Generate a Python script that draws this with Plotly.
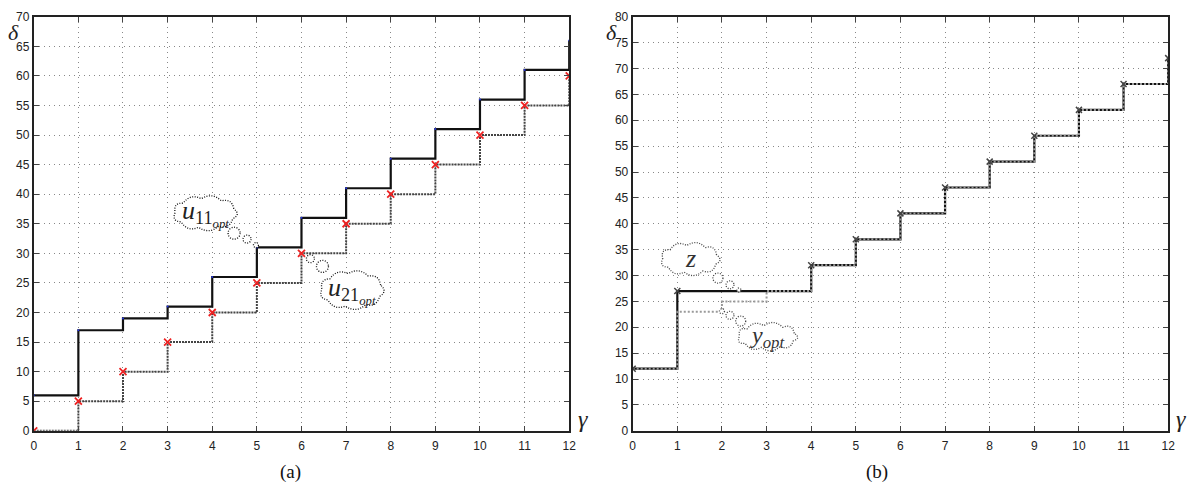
import numpy as np
import plotly.graph_objects as go

# ---------------- data ----------------
gamma = list(range(13))
# panel (a)
u11_opt = [6, 17, 19, 21, 26, 31, 36, 41, 46, 51, 56, 61, 66]
u21_opt = [0, 5, 10, 15, 20, 25, 30, 35, 40, 45, 50, 55, 60]
# panel (b)
z_vals = [12, 27, 27, 27, 32, 37, 42, 47, 52, 57, 62, 67, 72]
y_opt = [12, 23, 25, 27, 32, 37, 42, 47, 52, 57, 62, 67, 72]
mark_gamma_b = [0, 1, 4, 5, 6, 7, 8, 9, 10, 11, 12]
mark_vals_b = [12, 27, 32, 37, 42, 47, 52, 57, 62, 67, 72]

xticks = list(range(13))
yticks_a = list(range(0, 71, 5))
yticks_b = list(range(0, 81, 5))

fig = go.Figure()

# ---------------- panel (a) ----------------
fig.add_trace(go.Scatter(x=gamma, y=u21_opt, mode="lines", line_shape="hv",
                         line=dict(color="#444444", width=2, dash="2px,1px"),
                         xaxis="x", yaxis="y", showlegend=False))
fig.add_trace(go.Scatter(x=gamma, y=u11_opt, mode="lines+markers", line_shape="hv",
                         line=dict(color="#111111", width=2.2),
                         marker=dict(color="#2233dd", size=2),
                         xaxis="x", yaxis="y", showlegend=False))
fig.add_trace(go.Scatter(x=gamma, y=u21_opt, mode="markers",
                         marker=dict(symbol="x-thin", size=7,
                                     line=dict(color="#ee2222", width=1.8)),
                         xaxis="x", yaxis="y", showlegend=False))

# ---------------- panel (b) ----------------
fig.add_trace(go.Scatter(x=gamma, y=z_vals, mode="lines", line_shape="hv",
                         line=dict(color="#111111", width=2.2),
                         xaxis="x2", yaxis="y2", showlegend=False))
fig.add_trace(go.Scatter(x=gamma, y=y_opt, mode="lines", line_shape="hv",
                         line=dict(color="#9a9a9a", width=2, dash="2px,2px"),
                         xaxis="x2", yaxis="y2", showlegend=False))
fig.add_trace(go.Scatter(x=mark_gamma_b, y=mark_vals_b, mode="markers",
                         marker=dict(symbol="x-thin", size=6,
                                     line=dict(color="#444444", width=1.5)),
                         xaxis="x2", yaxis="y2", showlegend=False))

# ---------------- axes ----------------
tickfont = dict(family="Liberation Sans", size=12, color="#222222")
common = dict(showline=True, linecolor="#222222", linewidth=2, mirror="ticks",
              ticks="inside", ticklen=5, tickcolor="#444444", tickwidth=1,
              showgrid=True, gridcolor="#888888", gridwidth=1, griddash="1px,4px",
              zeroline=False, tickfont=tickfont)

fig.update_layout(
    width=1197, height=500,
    margin=dict(l=0, r=0, t=0, b=0),
    paper_bgcolor="white", plot_bgcolor="white",
    xaxis=dict(domain=[31/1197, 571/1197], range=[0, 12], tickvals=xticks,
               ticklabelstandoff=3, **common),
    yaxis=dict(domain=[64/500, 490/500], range=[0, 70], tickvals=yticks_a, **common),
    xaxis2=dict(domain=[635/1197, 1175/1197], range=[0, 12], tickvals=xticks,
                anchor="y2", ticklabelstandoff=3, **common),
    yaxis2=dict(domain=[64/500, 490/500], range=[0, 80], tickvals=yticks_b,
                anchor="x2", **common),
)


# ---------------- thought clouds ----------------
def cloud_path(w, h, n=9, bump=4.0):
    a, b = w / 2.0, h / 2.0
    th = np.linspace(0, 2 * np.pi, n + 1) + 0.3
    pts = [(a * np.cos(t), b * np.sin(t)) for t in th]
    d = f"M {pts[0][0]:.2f},{pts[0][1]:.2f}"
    for i in range(n):
        (x0, y0), (x1, y1) = pts[i], pts[i + 1]
        mx, my = (x0 + x1) / 2, (y0 + y1) / 2
        dx, dy = x1 - x0, y1 - y0
        L = np.hypot(dx, dy)
        nx, ny = dy / L, -dx / L
        if nx * mx + ny * my < 0:
            nx, ny = -nx, -ny
        cx, cy = mx + nx * bump * 2, my + ny * bump * 2
        d += f" Q {cx:.2f},{cy:.2f} {x1:.2f},{y1:.2f}"
    return d + " Z"


shapes = []


def add_cloud(xr, yr, cx, cy, w, h, tail, color):
    ln = dict(color=color, width=1.3, dash="1px,1.5px")
    for (tx, ty, r) in tail:
        shapes.append(dict(type="circle", xref=xr, yref=yr, xsizemode="pixel",
                           ysizemode="pixel", xanchor=tx, yanchor=ty,
                           x0=-r, x1=r, y0=-r, y1=r, fillcolor="white",
                           line=ln, layer="above"))
    shapes.append(dict(type="path", xref=xr, yref=yr, xsizemode="pixel",
                       ysizemode="pixel", xanchor=cx, yanchor=cy,
                       path=cloud_path(w, h), fillcolor="white",
                       line=ln, layer="above"))


add_cloud("x", "y", 3.84, 36.8, 60, 29,
          [(4.98, 31.4, 2.5), (4.78, 32.4, 4), (4.49, 33.4, 6)], "#111111")
add_cloud("x", "y", 7.13, 23.8, 60, 33,
          [(6.2, 29.1, 4), (6.47, 27.8, 6)], "#111111")
add_cloud("x2", "y2", 1.29, 33.2, 55, 27,
          [(2.38, 27.2, 2), (2.18, 28.2, 4), (1.91, 29.5, 5)], "#444444")
add_cloud("x2", "y2", 3.02, 18.2, 56, 22,
          [(2.0, 23.1, 2.5), (2.18, 22.3, 4), (2.42, 21.2, 5)], "#444444")
fig.update_layout(shapes=shapes)

serif = "Liberation Serif"
ann = []


def note(x, y, text, size, xr="paper", yr="paper", color="#222222"):
    ann.append(dict(x=x, y=y, xref=xr, yref=yr, showarrow=False, text=text,
                    xanchor="center", yanchor="middle",
                    font=dict(family=serif, size=size, color=color)))


note(3.84, 36.8, "<i>u</i><sub>11<sub><i>opt</i></sub></sub>", 26, "x", "y")
note(7.13, 23.8, "<i>u</i><sub>21<sub><i>opt</i></sub></sub>", 26, "x", "y")
note(1.29, 33.2, "<i>z</i>", 26, "x2", "y2", "#333333")
note(3.02, 18.2, "<i>y</i><sub><i>opt</i></sub>", 24, "x2", "y2", "#333333")
# axis symbols
for xp in (11, 614):
    note(xp / 1197, 1 - 26 / 500, "<i>δ</i>", 22)
for xp in (585, 1188):
    note(xp / 1197, 1 - 424 / 500, "<i>γ</i>", 24)
# captions
note(290 / 1197, 1 - 478 / 500, "(a)", 19, color="#111111")
note(881 / 1197, 1 - 478 / 500, "(b)", 19, color="#111111")
fig.update_layout(annotations=ann)

fig.write_html("out.html",
               post_script="document.body.style.margin='0';document.body.style.overflow='hidden';")
